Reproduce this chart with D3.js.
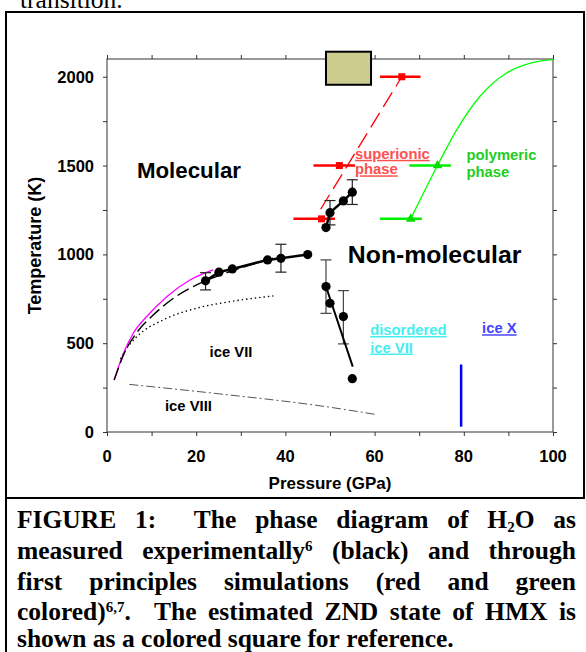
<!DOCTYPE html>
<html>
<head>
<meta charset="utf-8">
<script src="https://cdn.jsdelivr.net/npm/d3@7"></script>
<style>
  html, body { margin: 0; padding: 0; background: #fff; }
  svg { display: block; }
  .tick-label { font-family: Arial, "Liberation Sans", sans-serif; font-weight: bold; font-size: 16.5px; }
  .axis-title { font-family: Arial, "Liberation Sans", sans-serif; font-weight: bold; font-size: 17px; }
  .caption { font-family: "Times New Roman", "Liberation Serif", serif; font-weight: bold; font-size: 25.5px; }
</style>
</head>
<body>
<svg id="chart" width="586" height="652"></svg>
<script>
// Axis ticks
const pressureTicks = [0, 20, 40, 60, 80, 100];
const tempTicks = [0, 500, 1000, 1500, 2000];

// Experimental melting line (black)
const meltP = [22.1, 25.1, 28.1, 36.0, 39.0, 45.0];
const meltT = [851, 900, 918, 969, 978, 999];
const meltErrP = [22.1, 39.0];
const meltErrLo = [800, 900];
const meltErrHi = [897, 1057];

// Experimental high-T branch
const upperP = [49.1, 50.0, 53.0, 55.0];
const upperT = [1151, 1235, 1301, 1350];
const upperErrP = [50.0, 55.0];
const upperErrLo = [1166, 1281];
const upperErrHi = [1303, 1420];

// Experimental descending branch + fitted line
const lowerP = [49.1, 50.0, 53.0, 55.0];
const lowerT = [819, 725, 650, 300];
const lowerErrP = [49.1, 53.0];
const lowerErrLo = [668, 496];
const lowerErrHi = [969, 796];
const lowerFitP = [49.1, 55.1];
const lowerFitT = [819, 368];

// Superionic phase boundary (red, simulations)
const ionP = [48.1, 52.1, 66.1];
const ionT = [1200, 1500, 2000];
const ionErrLo = [41.8, 46.3, 61.2];
const ionErrHi = [51.1, 55.6, 70.3];
const ionLineP = [47.9, 66.1];
const ionLineT = [1254, 2000];

// Polymeric phase boundary (green, simulations)
const polyP = [68.1, 74.1];
const polyT = [1200, 1500];
const polyErrLo = [61.2, 67.8];
const polyErrHi = [70.6, 77.1];
const polyCurveP = [68.1, 74.1, 78.4, 83.6, 89.6, 95.6, 100];
const polyCurveT = [1200, 1500, 1701, 1889, 2021, 2081, 2097];

// Low-pressure melting curves
const magP = [1.6, 3.7, 5.9, 8.9, 13.4, 18.6, 23.8];
const magT = [293, 443, 556, 650, 762, 856, 913];
const dashP = [1.6, 4, 7, 10, 13.4, 19.3, 25, 32, 39];
const dashT = [293, 450, 570, 650, 725, 819, 880, 940, 990];
const dotP = [3.0, 3.7, 6.7, 12.6, 20.1, 27.6, 37.3];
const dotT = [410, 443, 537, 631, 697, 734, 766];

// ice VII / ice VIII boundary
const ddP = [5, 24, 49, 60];
const ddT = [268, 218, 143, 100];

// ice X line
const iceXP = [79.4, 79.4];
const iceXT = [30, 380];

// HMX ZND state box
const hmxP = [49.1, 59.2];
const hmxT = [1955, 2141];

const zip = (xs, ys) => xs.map((x, i) => [x, ys[i]]);

const svg = d3.select("#chart");

const x = d3.scaleLinear().domain([0, 100]).range([107, 553]);
const y = d3.scaleLinear().domain([0, 2100]).range([432, 59]);

// text partially cut at the top of the page
svg.append("text").attr("class", "caption")
    .style("font-weight", "normal")
    .attr("x", 20).attr("y", 8)
    .text("transition.");

// figure frame
svg.append("rect")
    .attr("x", 6).attr("y", 12).attr("width", 578).attr("height", 486)
    .attr("fill", "none").attr("stroke", "#000").attr("stroke-width", 2);
svg.append("line")
    .attr("x1", 6).attr("x2", 6).attr("y1", 498).attr("y2", 652)
    .attr("stroke", "#000").attr("stroke-width", 2);

// axes
const axisColor = "#333";
const plot = svg.append("g");

plot.append("g").attr("transform", "translate(0,432)")
    .call(d3.axisBottom(x).tickValues(d3.range(0, 101, 10)).tickSize(4).tickFormat(""))
    .call(g => g.selectAll("path,line").attr("stroke", axisColor));
plot.append("g").attr("transform", "translate(0,59)")
    .call(d3.axisTop(x).tickValues(d3.range(0, 101, 10)).tickSize(4).tickFormat(""))
    .call(g => g.selectAll("path,line").attr("stroke", axisColor));
plot.append("g").attr("transform", "translate(107,0)")
    .call(d3.axisLeft(y).tickValues(d3.range(0, 2001, 250)).tickSize(4).tickFormat(""))
    .call(g => g.selectAll("path,line").attr("stroke", axisColor));
plot.append("g").attr("transform", "translate(553,0)")
    .call(d3.axisRight(y).tickValues(d3.range(0, 2001, 250)).tickSize(4).tickFormat(""))
    .call(g => g.selectAll("path,line").attr("stroke", axisColor));
plot.selectAll(".domain").attr("d", null);
plot.append("rect")
    .attr("x", x(0)).attr("y", y(2100)).attr("width", x(100) - x(0)).attr("height", y(0) - y(2100))
    .attr("fill", "none").attr("stroke", axisColor).attr("stroke-width", 1);

// tick labels
svg.selectAll(".xlab").data(pressureTicks).join("text")
    .attr("class", "tick-label")
    .attr("x", d => x(d)).attr("y", 462)
    .attr("text-anchor", "middle")
    .text(d => d);
svg.selectAll(".ylab").data(tempTicks).join("text")
    .attr("class", "tick-label")
    .attr("x", 94).attr("y", d => y(d) + 6)
    .attr("text-anchor", "end")
    .text(d => d);

svg.append("text").attr("class", "axis-title")
    .attr("x", (x(0) + x(100)) / 2).attr("y", 489)
    .attr("text-anchor", "middle")
    .text("Pressure (GPa)");
svg.append("text").attr("class", "axis-title")
    .attr("transform", `translate(41,${(y(0) + y(2100)) / 2}) rotate(-90)`)
    .attr("text-anchor", "middle")
    .style("font-size", "18px")
    .text("Temperature (K)");

const line = d3.line().x(d => x(d[0])).y(d => y(d[1]));
const smooth = d3.line().x(d => x(d[0])).y(d => y(d[1])).curve(d3.curveMonotoneX);

// HMX box
svg.append("rect")
    .attr("x", x(hmxP[0])).attr("y", y(hmxT[1]))
    .attr("width", x(hmxP[1]) - x(hmxP[0])).attr("height", y(hmxT[0]) - y(hmxT[1]))
    .attr("fill", "#cccc8f").attr("stroke", "#000").attr("stroke-width", 2);

// low-pressure curves
svg.append("path").attr("d", smooth(zip(dotP, dotT)))
    .attr("fill", "none").attr("stroke", "#000").attr("stroke-width", 1.4)
    .attr("stroke-dasharray", "1.4,3");
svg.append("path").attr("d", smooth(zip(magP, magT)))
    .attr("fill", "none").attr("stroke", "#ff00ff").attr("stroke-width", 1.3);
svg.append("path").attr("d", smooth(zip(dashP, dashT)))
    .attr("fill", "none").attr("stroke", "#000").attr("stroke-width", 1.4)
    .attr("stroke-dasharray", "13,5");
svg.append("path").attr("d", smooth(zip(ddP, ddT)))
    .attr("fill", "none").attr("stroke", "#555").attr("stroke-width", 1)
    .attr("stroke-dasharray", "9,3,2,3");

// ice X
svg.append("path").attr("d", line(zip(iceXP, iceXT)))
    .attr("stroke", "#0000ff").attr("stroke-width", 2.5);

// red superionic
svg.append("path").attr("d", line(zip(ionLineP, ionLineT)))
    .attr("fill", "none").attr("stroke", "#ff0000").attr("stroke-width", 1.3)
    .attr("stroke-dasharray", "17,7");
ionP.forEach((p, i) => {
    svg.append("line")
        .attr("x1", x(ionErrLo[i])).attr("x2", x(ionErrHi[i]))
        .attr("y1", y(ionT[i])).attr("y2", y(ionT[i]))
        .attr("stroke", "#ff0000").attr("stroke-width", 2.5);
});
svg.selectAll(".ion").data(zip(ionP, ionT)).join("rect")
    .attr("x", d => x(d[0]) - 3.5).attr("y", d => y(d[1]) - 3.5)
    .attr("width", 7).attr("height", 7).attr("fill", "#ff0000");

// green polymeric
svg.append("path").attr("d", smooth(zip(polyCurveP, polyCurveT)))
    .attr("fill", "none").attr("stroke", "#00ff00").attr("stroke-width", 1.3);
polyP.forEach((p, i) => {
    svg.append("line")
        .attr("x1", x(polyErrLo[i])).attr("x2", x(polyErrHi[i]))
        .attr("y1", y(polyT[i])).attr("y2", y(polyT[i]))
        .attr("stroke", "#00ee00").attr("stroke-width", 2.5);
});
svg.selectAll(".poly").data(zip(polyP, polyT)).join("path")
    .attr("transform", d => `translate(${x(d[0])},${y(d[1])})`)
    .attr("d", d3.symbol(d3.symbolTriangle, 40))
    .attr("fill", "#00dd00");

// experimental data (black)
function errBars(ps, lo, hi, color) {
    ps.forEach((p, i) => {
        const g = svg.append("g").attr("stroke", color).attr("stroke-width", 1.2);
        g.append("line").attr("x1", x(p)).attr("x2", x(p)).attr("y1", y(lo[i])).attr("y2", y(hi[i]));
        g.append("line").attr("x1", x(p) - 5.5).attr("x2", x(p) + 5.5).attr("y1", y(lo[i])).attr("y2", y(lo[i]));
        g.append("line").attr("x1", x(p) - 5.5).attr("x2", x(p) + 5.5).attr("y1", y(hi[i])).attr("y2", y(hi[i]));
    });
}
errBars(meltErrP, meltErrLo, meltErrHi, "#222");
errBars(upperErrP, upperErrLo, upperErrHi, "#222");
errBars(lowerErrP, lowerErrLo, lowerErrHi, "#444");

svg.append("path").attr("d", line(zip(meltP, meltT)))
    .attr("fill", "none").attr("stroke", "#000").attr("stroke-width", 2.5);
svg.append("path").attr("d", line(zip(upperP, upperT)))
    .attr("fill", "none").attr("stroke", "#000").attr("stroke-width", 2.5);
svg.append("path").attr("d", line(zip(lowerFitP, lowerFitT)))
    .attr("fill", "none").attr("stroke", "#000").attr("stroke-width", 2);

svg.selectAll(".exp")
    .data([...zip(meltP, meltT), ...zip(upperP, upperT), ...zip(lowerP, lowerT)])
    .join("circle")
    .attr("cx", d => x(d[0])).attr("cy", d => y(d[1])).attr("r", 4.6)
    .attr("fill", "#000");

// region labels
function label(lines, p, t, size, color, underline, dy) {
    lines.forEach((s, i) => {
        svg.append("text")
            .attr("x", x(p)).attr("y", y(t) + i * dy)
            .attr("font-family", "Arial, 'Liberation Sans', sans-serif")
            .attr("font-weight", "bold").attr("font-size", size)
            .attr("fill", color)
            .attr("text-decoration", underline ? "underline" : null)
            .text(s);
    });
}
label(["Molecular"], 6.7, 1431, 22.3, "#000", false, 0);
label(["Non-molecular"], 54.0, 954, 24.8, "#000", false, 0);
label(["superionic", "phase"], 55.6, 1538, 14.8, "#ff5050", true, 15.5);
label(["polymeric", "phase"], 80.6, 1529, 14.8, "#22cc22", false, 16.5);
label(["disordered", "ice VII"], 59.0, 546, 14.8, "#44eeee", true, 17.5);
label(["ice X"], 84.1, 556, 14.8, "#4444ff", true, 0);
label(["ice VII"], 23.0, 424, 14.8, "#000", false, 0);
label(["ice VIII"], 13.0, 120, 14.8, "#000", false, 0);

// caption, justified between left and right
const capLeft = 17, capRight = 576;
const capLines = [
    { y: 528, words: [["FIGURE"], ["1:"], ["The"], ["phase"], ["diagram"], ["of"], ["H", ["2", "sub"], "O"], ["as"]], gaps: [1, 2, 1, 1, 1, 1, 1] },
    { y: 559, words: [["measured"], ["experimentally", ["6", "sup"]], ["(black)"], ["and"], ["through"]] },
    { y: 590, words: [["first"], ["principles"], ["simulations"], ["(red"], ["and"], ["green"]] },
    { y: 620, words: [["colored)", ["6,7", "sup"], "."], ["The"], ["estimated"], ["ZND"], ["state"], ["of"], ["HMX"], ["is"]], gaps: [2, 1, 1, 1, 1, 1, 1] },
    { y: 647, words: [["shown"], ["as"], ["a"], ["colored"], ["square"], ["for"], ["reference."]], left: true }
];
capLines.forEach(ln => {
    const nodes = ln.words.map(parts => {
        const t = svg.append("text").attr("class", "caption").attr("y", ln.y);
        parts.forEach(part => {
            if (typeof part === "string") {
                t.append("tspan").text(part);
            } else {
                const sup = part[1] === "sup";
                t.append("tspan").attr("font-size", 15)
                    .attr("baseline-shift", sup ? "55%" : "-25%").text(part[0]);
            }
        });
        return t;
    });
    const widths = nodes.map(n => n.node().getComputedTextLength());
    const total = d3.sum(widths);
    const gaps = ln.gaps || d3.range(nodes.length - 1).map(() => 1);
    const unit = ln.left ? 6.4 : (capRight - capLeft - total) / d3.sum(gaps);
    let cx = capLeft;
    nodes.forEach((n, i) => {
        n.attr("x", cx);
        cx += widths[i] + (i < gaps.length ? gaps[i] * unit : 0);
    });
});
</script>
</body>
</html>
